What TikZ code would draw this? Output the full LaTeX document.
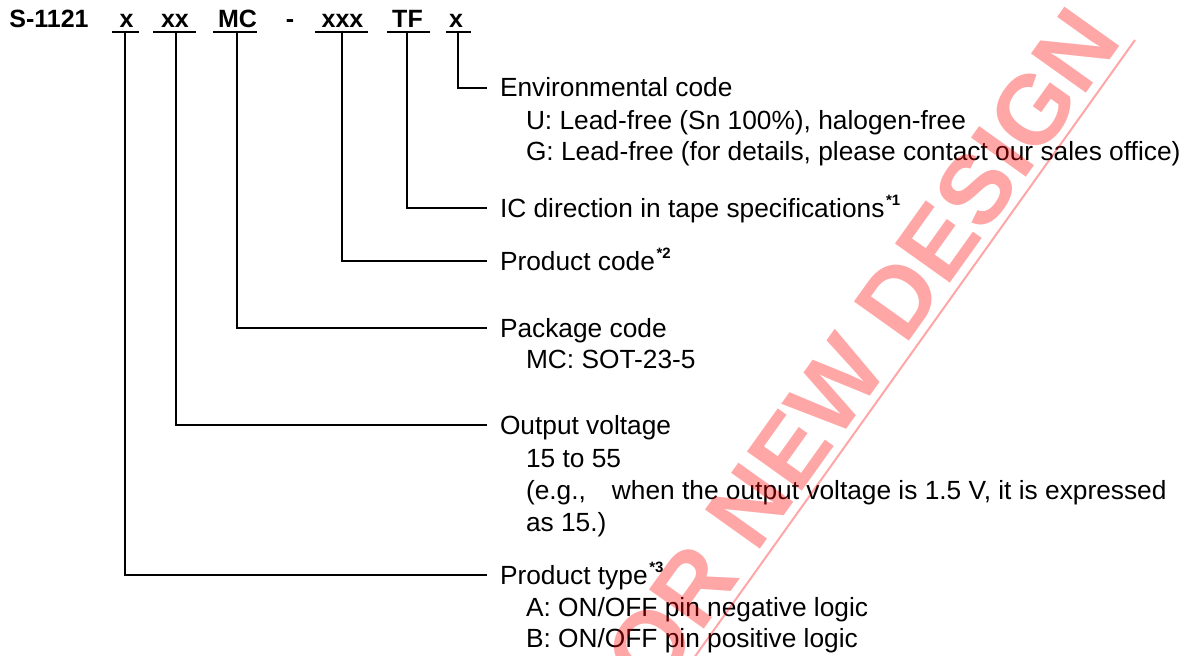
\documentclass[tikz,border=0pt]{standalone}
\usepackage{fontspec}
\setmainfont{Liberation Sans}
\newcommand{\fnmark}[1]{\kern0.8pt\raisebox{6pt}{\fontsize{7.5}{8}\selectfont\bfseries *#1}}
\begin{document}
\begin{tikzpicture}[x=0.5pt, y=-0.5pt,
  code/.style={anchor=base, inner sep=0pt, font=\fontsize{12.5}{14}\selectfont\bfseries},
  ttl/.style={anchor=west, inner sep=0pt, outer sep=0pt, font=\fontsize{13.15}{15.5}\selectfont, text height=11pt, text depth=1.6pt},
  ln/.style={line width=1pt, line join=miter},
  conn/.style={ln, shorten >=6.5pt},
  wm/.style={text=red, text opacity=0.35, inner sep=0pt, font=\fontsize{49}{58}\selectfont\bfseries},
  wmline/.style={draw=red, draw opacity=0.35, line width=1pt}
]
\useasboundingbox (0,0) rectangle (1192,655);
\clip (0,0) rectangle (1192,655);

% header
\node[code, anchor=base west] (pn) at (9,27) {S-1121};
\node[code] (c1) at (126.5,27) {x};
\node[code] (c2) at (175,27) {xx};
\node[code] (c3) at (237.5,27) {MC};
\node[code] (c4) at (290,27) {-};
\node[code] (c5) at (342.5,27) {xxx};
\node[code] (c6) at (407.5,27) {TF};
\node[code] (c7) at (456,27) {x};

% underlines
\coordinate (a1) at (112,32); \coordinate (b1) at (139,32); \coordinate (v1) at (125,32);
\coordinate (a2) at (153,32); \coordinate (b2) at (196,32); \coordinate (v2) at (176,32);
\coordinate (a3) at (213,32); \coordinate (b3) at (257,32); \coordinate (v3) at (237,32);
\coordinate (a5) at (315,32); \coordinate (b5) at (368,32); \coordinate (v5) at (342,32);
\coordinate (a6) at (387,32); \coordinate (b6) at (430,32); \coordinate (v6) at (407,32);
\coordinate (a7) at (446,32); \coordinate (b7) at (471,32); \coordinate (v7) at (458,32);
\foreach \i in {1,2,3,5,6,7} { \draw[ln] (a\i) -- (b\i); }

% labels
\node[ttl] (env) at (500,87.5) {Environmental code};
\node[ttl] (envU) at (526,120.5) {U: Lead-free (Sn 100\%), halogen-free};
\node[ttl] (envG) at (526,151.5) {G: Lead-free (for details, please contact our sales office)};
\node[ttl] (ic) at (500,208) {IC direction in tape specifications\fnmark{1}};
\node[ttl] (pc) at (500,261) {Product code\fnmark{2}};
\node[ttl] (pk) at (500,328) {Package code};
\node[ttl] (pkMC) at (526,359) {MC: SOT-23-5};
\node[ttl] (ov) at (500,425) {Output voltage};
\node[ttl] (ov1) at (526,458) {15 to 55};
\node[ttl] (ov2) at (526,490) {(e.g.,\hspace{13pt}when the output voltage is 1.5 V, it is expressed};
\node[ttl] (ov3) at (526,522) {as 15.)};
\node[ttl] (pt) at (500,575) {Product type\fnmark{3}};
\node[ttl] (ptA) at (526,607) {A: ON/OFF pin negative logic};
\node[ttl] (ptB) at (526,638) {B: ON/OFF pin positive logic};

% connectors
\draw[conn] (v7) |- (env.west);
\draw[conn] (v6) |- (ic.west);
\draw[conn] (v5) |- (pc.west);
\draw[conn] (v3) |- (pk.west);
\draw[conn] (v2) |- (ov.west);
\draw[conn] (v1) |- (pt.west);

% watermark
\node[wm, rotate=54.5, anchor=base east] (wmk) at (1124,40) {NOT RECOMMENDED FOR NEW DESIGN};
\coordinate (w1) at (1135,40);
\coordinate (w2) at (554,854);
\draw[wmline] (w1) -- (w2);
\end{tikzpicture}
\end{document}
